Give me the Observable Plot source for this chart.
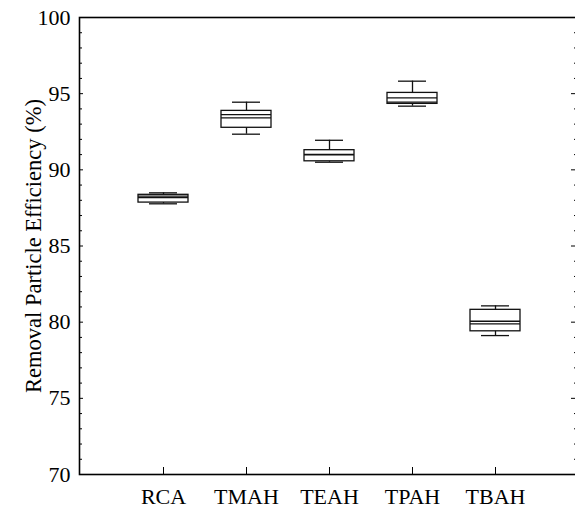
<!DOCTYPE html>
<html>
<head>
<meta charset="utf-8">
<script src="https://cdn.jsdelivr.net/npm/d3@7"></script>
<script src="https://cdn.jsdelivr.net/npm/@observablehq/plot@0.6"></script>
<style>
  html, body { margin: 0; padding: 0; background: #fff; overflow: hidden; }
  svg { display: block; }
</style>
</head>
<body>
<div id="chart"></div>
<script>
// Removal particle efficiency (%) per cleaning solution
const categories  = ["RCA", "TMAH", "TEAH", "TPAH", "TBAH"];
const whiskerLow  = [87.77, 92.34, 90.50, 94.18, 79.12];
const quartile1   = [87.85, 92.76, 90.56, 94.33, 79.40];
const medians     = [88.18, 93.41, 90.98, 94.45, 79.89];
const means       = [88.27, 93.63, 91.02, 94.73, 80.06];
const quartile3   = [88.36, 93.87, 91.29, 95.05, 80.81];
const whiskerHigh = [88.49, 94.44, 91.94, 95.82, 81.07];

const yMajorTicks = [70, 75, 80, 85, 90, 95, 100];
const yMinorTicks = d3.range(70, 101, 1).filter(v => v % 5 !== 0);
const yTitle = "Removal Particle Efficiency (%)";

const rows = categories.map((name, i) => ({
  name,
  lo: whiskerLow[i],
  q1: quartile1[i],
  median: medians[i],
  mean: means[i],
  q3: quartile3[i],
  hi: whiskerHigh[i]
}));

const ink = "#111";
const lw = 1.3;

const chart = Plot.plot({
  width: 575,
  height: 510,
  marginLeft: 79,
  marginTop: 17,
  marginBottom: 36,
  marginRight: -4,
  style: {
    fontFamily: "'Liberation Serif', 'Times New Roman', serif",
    background: "#fff",
    color: "#000",
    overflow: "visible"
  },
  x: {type: "band", domain: categories, paddingInner: 0.4, paddingOuter: 0.7, label: null},
  y: {domain: [70, 100], label: null},
  marks: [
    Plot.frame({stroke: "#000", strokeWidth: 1.6}),

    // left axis: inward minor and major ticks, labels on major
    Plot.axisY(yMinorTicks, {anchor: "left", tickSize: 3, insetLeft: 3, tickFormat: () => "", stroke: "#000"}),
    Plot.axisY(yMajorTicks, {anchor: "left", tickSize: 4, insetLeft: 4, tickPadding: 9, fontSize: 22, stroke: "#000", fill: "#000"}),

    // right axis: inward ticks only
    Plot.axisY(yMinorTicks, {anchor: "right", tickSize: 6, insetRight: 6, tickFormat: () => "", stroke: "#000"}),
    Plot.axisY(yMajorTicks, {anchor: "right", tickSize: 9, insetRight: 9, tickFormat: () => "", stroke: "#000"}),

    // bottom axis: inward ticks at each category
    Plot.axisX({anchor: "bottom", tickSize: 7, insetBottom: 7, tickPadding: 14, fontSize: 22, stroke: "#000", fill: "#000"}),

    // y title
    Plot.text([yTitle], {frameAnchor: "left", textAnchor: "middle", lineAnchor: "middle", dx: -46, rotate: -90, fontSize: 22.5, fill: "#000"}),

    // whiskers
    Plot.ruleX(rows, {x: "name", y1: "q3", y2: "hi", stroke: ink, strokeWidth: lw}),
    Plot.ruleX(rows, {x: "name", y1: "lo", y2: "q1", stroke: ink, strokeWidth: lw}),
    Plot.tickY(rows, {x: "name", y: "hi", insetLeft: 11, insetRight: 11, stroke: ink, strokeWidth: lw}),
    Plot.tickY(rows, {x: "name", y: "lo", insetLeft: 11, insetRight: 11, stroke: ink, strokeWidth: lw}),

    // boxes with median and mean lines
    Plot.barY(rows, {x: "name", y1: "q1", y2: "q3", fill: "none", stroke: ink, strokeWidth: lw}),
    Plot.tickY(rows, {x: "name", y: "median", stroke: ink, strokeWidth: lw}),
    Plot.tickY(rows, {x: "name", y: "mean", stroke: ink, strokeWidth: lw})
  ]
});

document.getElementById("chart").appendChild(chart);
</script>
</body>
</html>
